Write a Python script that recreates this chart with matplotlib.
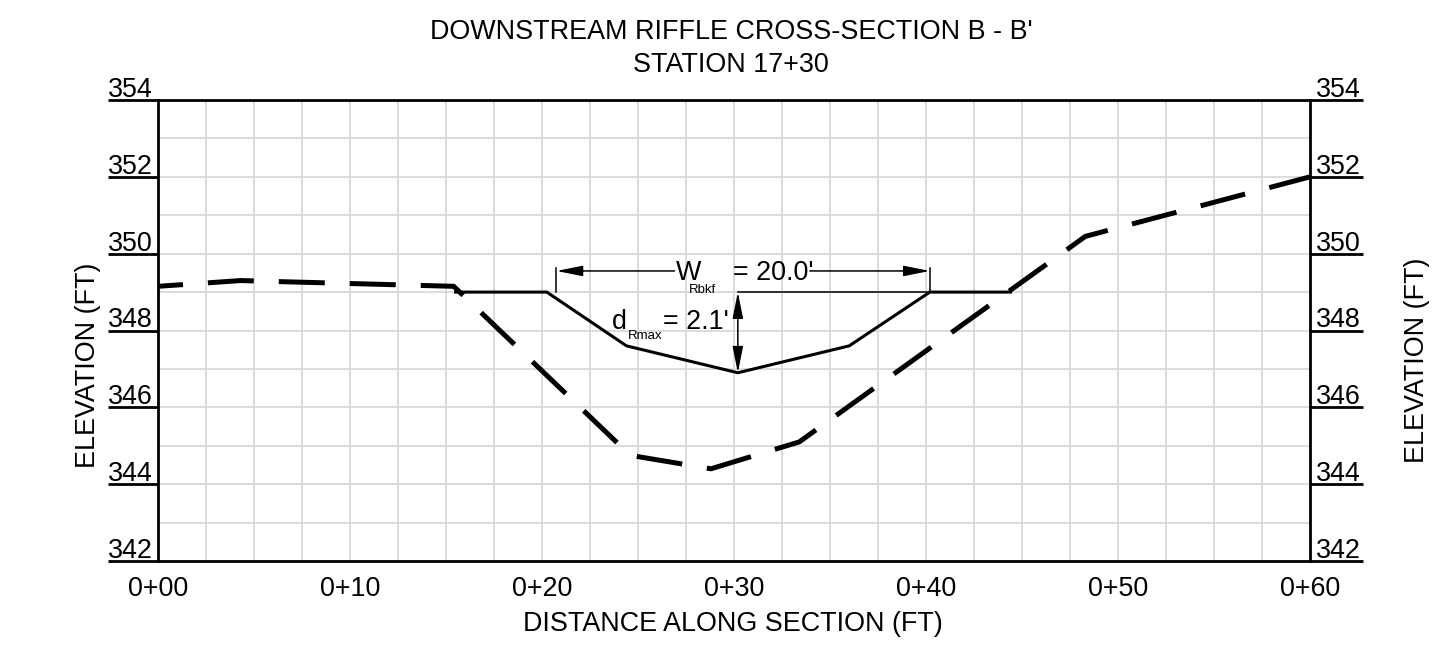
import matplotlib
matplotlib.use("Agg")
import matplotlib.pyplot as plt
from matplotlib.patches import ArrowStyle
import numpy as np

plt.rcParams['font.family'] = ['Liberation Sans', 'DejaVu Sans']

# ---- data ----
ground_x = [0, 4.3, 15.4, 24.6, 28.8, 33.4, 48.3, 60]
ground_y = [349.15, 349.3, 349.15, 344.75, 344.4, 345.1, 350.45, 352.0]
channel_x = [15.5, 20.25, 24.4, 30.2, 36.0, 40.2, 44.4]
channel_y = [349.0, 349.0, 347.6, 346.9, 347.6, 349.0, 349.0]
y_ticks = [342, 344, 346, 348, 350, 352, 354]
x_ticks = [0, 10, 20, 30, 40, 50, 60]
x_labels = ['0+00', '0+10', '0+20', '0+30', '0+40', '0+50', '0+60']
bankfull_elev = 349.0
thalweg_x = 30.2
thalweg_elev = 346.9
w_left, w_right = 20.75, 40.2
dim_y = 349.55

FS = 19.4

fig = plt.figure(figsize=(14.52, 6.45), dpi=100)
ax = fig.add_axes([158/1452, 1-561/645, (1310-158)/1452, (561-100)/645])
ax.set_xlim(0, 60)
ax.set_ylim(342, 354)

# grid
ax.set_xticks(x_ticks)
ax.set_xticks(np.arange(0, 60.01, 2.5), minor=True)
ax.set_yticks(y_ticks)
ax.set_yticks(np.arange(342, 354.01, 1), minor=True)
ax.grid(which='both', color='#d9d9d9', lw=1.3, zorder=0)
ax.set_axisbelow(True)
for s in ax.spines.values():
    s.set_linewidth(2.0)
    s.set_zorder(5)

ax.tick_params(axis='x', which='both', length=0, pad=11, labelsize=FS)
ax.set_xticklabels(x_labels)
ax.tick_params(axis='y', which='major', length=36, width=2.0, direction='out',
               left=True, right=True, labelleft=False, labelright=False)
ax.tick_params(axis='y', which='minor', length=0)
for t in ax.yaxis.get_major_ticks():
    t.tick2line.set_markersize(38)

for y in y_ticks:
    ax.annotate(str(y), xy=(0, y), xycoords=('axes fraction', 'data'),
                xytext=(-3.5, 2.2), textcoords='offset points',
                ha='right', va='baseline', fontsize=FS, annotation_clip=False)
    ax.annotate(str(y), xy=(1, y), xycoords=('axes fraction', 'data'),
                xytext=(4.3, 2.2), textcoords='offset points',
                ha='left', va='baseline', fontsize=FS, annotation_clip=False)

# existing ground (dashed)
ax.plot(ground_x, ground_y, color='black', lw=3.6,
        linestyle=(4.2, (9.2, 5.0)), solid_capstyle='butt', zorder=3)
# proposed channel (solid)
ax.plot(channel_x, channel_y, color='black', lw=2.2, zorder=4,
        solid_joinstyle='miter')

# thin bankfull line
ax.plot([thalweg_x, w_right], [bankfull_elev, bankfull_elev], color='black', lw=1.1, zorder=4)
# extension ticks
ax.plot([w_left, w_left], [bankfull_elev, dim_y + 0.07], color='black', lw=1.1, zorder=4)
ax.plot([w_right, w_right], [bankfull_elev, dim_y + 0.07], color='black', lw=1.1, zorder=4)

astyle = ArrowStyle('-|>', head_length=1.0, head_width=0.2)
astyle2 = ArrowStyle('<|-|>', head_length=1.0, head_width=0.2)
ax.annotate('', xy=(w_left, dim_y), xytext=(26.9, dim_y),
            arrowprops=dict(arrowstyle=astyle, color='black', lw=1.1,
                            mutation_scale=16, shrinkA=0, shrinkB=0))
ax.annotate('', xy=(w_right, dim_y), xytext=(33.95, dim_y),
            arrowprops=dict(arrowstyle=astyle, color='black', lw=1.1,
                            mutation_scale=16, shrinkA=0, shrinkB=0))
ax.annotate('', xy=(thalweg_x, bankfull_elev), xytext=(thalweg_x, thalweg_elev),
            arrowprops=dict(arrowstyle=astyle2, color='black', lw=1.1,
                            mutation_scale=16, shrinkA=0, shrinkB=0))

# dimension texts
ax.text(26.98, 349.31, 'W', fontsize=FS, ha='left', va='baseline')
ax.text(27.66, 348.97, 'Rbkf', fontsize=9.5, ha='left', va='baseline')
ax.text(29.95, 349.31, "= 20.0'", fontsize=FS, ha='left', va='baseline')
ax.text(23.65, 348.04, 'd', fontsize=FS, ha='left', va='baseline')
ax.text(24.48, 347.78, 'Rmax', fontsize=9.5, ha='left', va='baseline')
ax.text(26.3, 348.04, "= 2.1'", fontsize=FS, ha='left', va='baseline')

# titles and labels
fig.text(731/1452, 1-39/645, "DOWNSTREAM RIFFLE CROSS-SECTION B - B'", fontsize=FS,
         ha='center', va='baseline')
fig.text(731/1452, 1-72/645, "STATION 17+30", fontsize=FS, ha='center', va='baseline')
fig.text(733/1452, 1-631/645, "DISTANCE ALONG SECTION (FT)", fontsize=FS,
         ha='center', va='baseline')
fig.text(88/1452, 1-365/645, "ELEVATION (FT)", fontsize=FS, rotation=90,
         ha='center', va='center')
fig.text(1417/1452, 1-360/645, "ELEVATION (FT)", fontsize=FS, rotation=90,
         ha='center', va='center')

fig.savefig('out.png', dpi=100)
